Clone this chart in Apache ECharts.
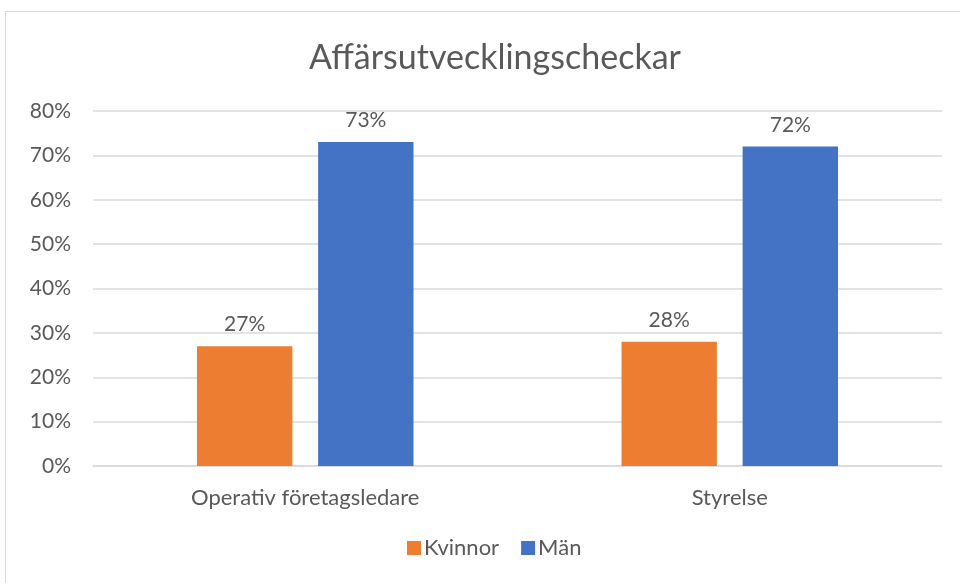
<!DOCTYPE html>
<html>
<head>
<meta charset="utf-8">
<script src="https://cdn.jsdelivr.net/npm/echarts@6/dist/echarts.min.js"></script>
<style>
  html, body { margin: 0; padding: 0; background: #fff; }
  #frame { position: absolute; left: 5px; top: 11px; width: 960px; height: 600px; border: 1.5px solid #d9d9d9; box-sizing: border-box; }
  #chart { position: absolute; left: 0; top: 0; width: 960px; height: 583px; }
</style>
</head>
<body>
<div id="frame"></div>
<div id="chart"></div>
<script>
const categories = ["Operativ företagsledare", "Styrelse"];
const kvinnor = [27, 28];
const man = [73, 72];
const yTicks = [0, 10, 20, 30, 40, 50, 60, 70, 80];

const FONT = "Lato";
const TEXT = "#595959";

const chart = echarts.init(document.getElementById("chart"), null, { renderer: "canvas" });

const labelStyle = {
  show: true,
  position: "top",
  distance: 11,
  formatter: (p) => p.value + "%",
  color: TEXT,
  fontFamily: FONT,
  fontSize: 21,
};

chart.setOption({
  backgroundColor: "transparent",
  animation: false,
  title: {
    text: "Affärsutvecklingscheckar",
    left: 490,
    textAlign: "center",
    top: 36,
    textStyle: { color: TEXT, fontFamily: FONT, fontSize: 34, fontWeight: "normal" },
  },
  legend: {
    bottom: 19,
    left: 402,
    itemWidth: 14,
    itemHeight: 14,
    itemGap: 22,
    icon: "rect",
    textStyle: { color: TEXT, fontFamily: FONT, fontSize: 22, padding: [0, 0, 0, -2] },
    data: ["Kvinnor", "Män"],
  },
  grid: { left: 93, right: 18, top: 111, bottom: 117, containLabel: false },
  xAxis: {
    type: "category",
    data: categories,
    axisTick: { show: false },
    axisLine: { lineStyle: { color: "#d9d9d9", width: 1.5 } },
    axisLabel: { color: TEXT, fontFamily: FONT, fontSize: 22, margin: 21 },
  },
  yAxis: {
    type: "value",
    min: yTicks[0],
    max: yTicks[yTicks.length - 1],
    interval: 10,
    axisLine: { show: false },
    axisTick: { show: false },
    axisLabel: { color: TEXT, fontFamily: FONT, fontSize: 21, margin: 22, formatter: "{value}%" },
    splitLine: { lineStyle: { color: "#d9d9d9", width: 1.5 } },
  },
  series: [
    {
      name: "Kvinnor",
      type: "bar",
      data: kvinnor,
      barGap: "27%",
      barCategoryGap: "49%",
      itemStyle: { color: "#ED7D31" },
      label: labelStyle,
    },
    {
      name: "Män",
      type: "bar",
      data: man,
      itemStyle: { color: "#4472C4" },
      label: labelStyle,
    },
  ],
});
</script>
</body>
</html>
